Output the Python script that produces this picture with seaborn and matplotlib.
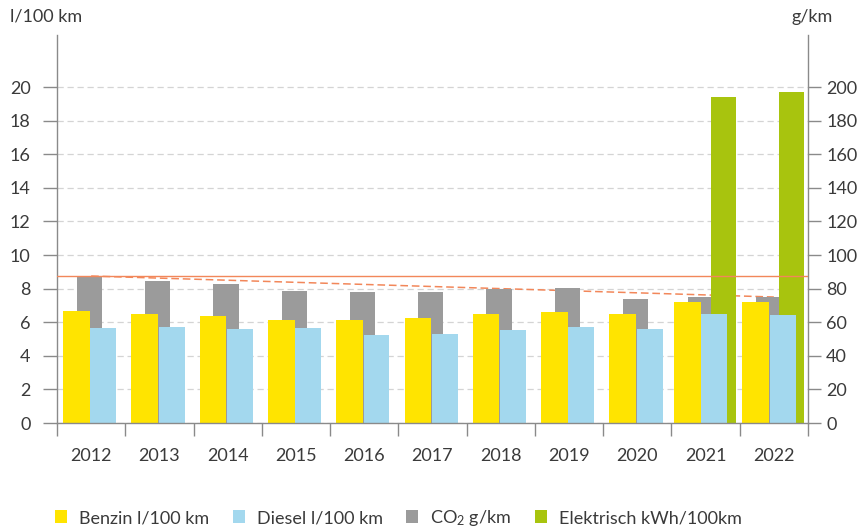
import numpy as np
import pandas as pd
import matplotlib
matplotlib.use("Agg")
import matplotlib.pyplot as plt
from matplotlib.patches import Patch
import seaborn as sns

# ── Data ──────────────────────────────────────────────────────────────────────
years      = [2012, 2013, 2014, 2015, 2016, 2017, 2018, 2019, 2020, 2021, 2022]
benzin     = [6.68, 6.49, 6.39, 6.15, 6.13, 6.23, 6.47, 6.59, 6.47, 7.20, 7.18]
diesel     = [5.65, 5.71, 5.60, 5.67, 5.26, 5.32, 5.54, 5.73, 5.57, 6.51, 6.45]
co2        = [87.5, 84.5, 82.7, 78.8, 77.8, 78.2, 79.9, 80.3, 73.8, 75.2, 75.0]
elektrisch = [np.nan] * 9 + [19.4, 19.7]

left_ticks  = list(range(0, 21, 2))
right_ticks = list(range(0, 201, 20))

labels = ["Benzin l/100 km", "Diesel l/100 km", "CO$_2$ g/km", "Elektrisch kWh/100km"]

# ── Style ─────────────────────────────────────────────────────────────────────
sns.set_style("white")
plt.rcParams["font.family"] = ["Lato", "DejaVu Sans"]
plt.rcParams["mathtext.default"] = "regular"

YELLOW = "#FFE400"
BLUE   = "#A3D8EE"
GRAY   = "#9B9B9B"
GREEN  = "#A8C40E"
ORANGE = "#F2875A"
TXT    = "#3A3A3A"
AXC    = "#8A8A8A"

df = pd.DataFrame({"year": years, "benzin": benzin, "diesel": diesel,
                   "co2": co2, "elektrisch": elektrisch})
df["has_e"] = df["elektrisch"].notna()

fig = plt.figure(figsize=(8.62, 5.29), dpi=100)
ax = fig.add_axes([57 / 862, 1 - 423 / 529, (808 - 57) / 862, (423 - 35) / 529])
ax2 = ax.twinx()   # right scale, drawn behind: grid, CO2 bars, trend
ax3 = ax.twinx()   # right scale, drawn in front: reference line
ax2.set_zorder(0)
ax.set_zorder(1)
ax3.set_zorder(2)
ax.patch.set_visible(False)
ax3.patch.set_visible(False)

# (center offset within the year slot, width)
layout = {
    False: {"benzin": (-0.215, 0.39), "diesel": (0.18, 0.38), "co2": (-0.025, 0.37)},
    True:  {"benzin": (-0.265, 0.39), "diesel": (0.13, 0.38), "co2": (-0.075, 0.37),
            "elektrisch": (0.26, 0.36)},
}

for has_e, grp in df.groupby("has_e"):
    lay = layout[has_e]
    off, w = lay["co2"]
    sns.barplot(x=grp["year"] + off, y=grp["co2"], native_scale=True, width=w,
                color=GRAY, saturation=1, linewidth=0, errorbar=None, ax=ax2)
    if has_e:
        off, w = lay["elektrisch"]
        sns.barplot(x=grp["year"] + off, y=grp["elektrisch"], native_scale=True,
                    width=w, color=GREEN, saturation=1, linewidth=0,
                    errorbar=None, ax=ax)
    for col, colr in (("benzin", YELLOW), ("diesel", BLUE)):
        off, w = lay[col]
        sns.barplot(x=grp["year"] + off, y=grp[col], native_scale=True, width=w,
                    color=colr, saturation=1, linewidth=0, errorbar=None, ax=ax)

# CO2 trend between first and last year, and reference level of first year
sns.lineplot(x=[years[0], years[-1]], y=[co2[0], co2[-1]], color=ORANGE,
             lw=1.1, ax=ax2, zorder=0.8)
for l in ax2.lines:
    l.set_linestyle((0, (5, 2.5)))
ax3.axhline(co2[0], color=ORANGE, lw=1.0)

# ── Axes ──────────────────────────────────────────────────────────────────────
ymax = 23.1
for a in (ax, ax2, ax3):
    a.set_xlim(years[0] - 0.5, years[-1] + 0.5)
    a.set_xlabel("")
    a.set_ylabel("")
ax.set_ylim(0, ymax)
ax2.set_ylim(0, ymax * 10)
ax3.set_ylim(0, ymax * 10)

ax2.set_axisbelow(True)
ax2.set_yticks(right_ticks)
ax2.yaxis.grid(True, color="#D4D4D4", linestyle=(0, (5, 3)), lw=0.9)
ax2.xaxis.grid(False)
ax2.tick_params(axis="y", right=True, direction="out", length=9, width=1,
                color=AXC, labelsize=13, labelcolor=TXT, pad=4)
for s in ax2.spines.values():
    s.set_visible(False)

ax3.set_yticks([])
ax3.set_xticks([])
for s in ax3.spines.values():
    s.set_visible(False)

ax.set_yticks(left_ticks)
ax.tick_params(axis="y", left=True, direction="out", length=10, width=1,
               color=AXC, labelsize=13, labelcolor=TXT, pad=9)
ax.set_xticks(years)
ax.set_xticklabels([str(y) for y in years])
ax.set_xticks([y - 0.5 for y in years] + [years[-1] + 0.5], minor=True)
ax.tick_params(axis="x", which="major", length=0, labelsize=13,
               labelcolor=TXT, pad=18)
ax.tick_params(axis="x", which="minor", bottom=True, direction="out",
               length=9, width=1, color=AXC)
ax.spines["top"].set_visible(False)
for side in ("left", "right", "bottom"):
    ax.spines[side].set_visible(True)
    ax.spines[side].set_color(AXC)
    ax.spines[side].set_linewidth(1)

fig.text(10 / 862, 1 - 17 / 529, "l/100 km", fontsize=13, color=TXT,
         ha="left", va="center")
fig.text(812 / 862, 1 - 17 / 529, "g/km", fontsize=13, color=TXT,
         ha="center", va="center")

handles = [Patch(facecolor=c, edgecolor="none") for c in (YELLOW, BLUE, GRAY, GREEN)]
fig.legend(handles, labels, loc="center left", bbox_to_anchor=(55 / 862, 1 - 518 / 529),
           ncol=4, frameon=False, fontsize=13, labelcolor=TXT,
           handlelength=0.68, handleheight=0.68, handletextpad=0.65,
           columnspacing=1.3, borderaxespad=0, borderpad=0)

fig.savefig("out.png", dpi=100)
